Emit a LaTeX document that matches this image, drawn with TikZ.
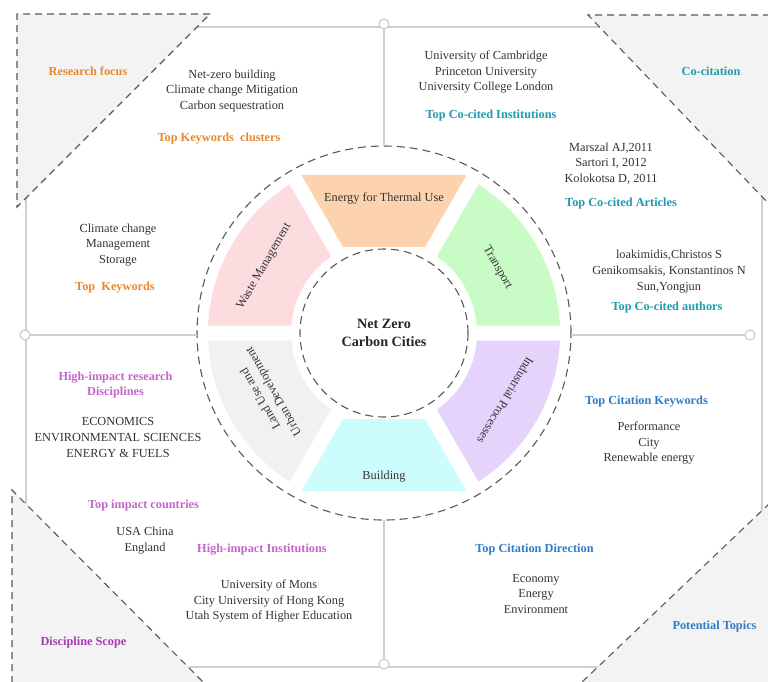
\documentclass[tikz,border=0pt]{standalone}
\usepackage{fontspec}
\setmainfont{Liberation Serif}
\usetikzlibrary{calc}

\definecolor{framegray}{HTML}{CFCFCF}
\definecolor{dashgray}{HTML}{595959}
\definecolor{cornerfill}{HTML}{F3F3F3}
\definecolor{bodytext}{HTML}{333333}
\definecolor{kworange}{HTML}{E8892C}
\definecolor{citeteal}{HTML}{1F9AAF}
\definecolor{impactpurple}{HTML}{C466C9}
\definecolor{scopepurple}{HTML}{A63BB4}
\definecolor{topicblue}{HTML}{2F7CC5}
\definecolor{segEnergy}{HTML}{FCD3AE}
\definecolor{segTransport}{HTML}{C9FBC6}
\definecolor{segIndustry}{HTML}{E5D3FB}
\definecolor{segBuilding}{HTML}{CDFCFC}
\definecolor{segLand}{HTML}{F1F1F1}
\definecolor{segWaste}{HTML}{FDDCDF}

% ring segment with curved edges: #1 middle angle, #2 fill colour
\newcommand\curvedsegment[2]{%
  \fill[#2] ({#1-30+asin(7.5/93)}:93pt) -- ({#1-30+asin(7.5/176)}:176pt)
    arc[start angle={#1-30+asin(7.5/176)}, end angle={#1+30-asin(7.5/176)}, radius=176pt]
    -- ({#1+30-asin(7.5/93)}:93pt)
    arc[start angle={#1+30-asin(7.5/93)}, end angle={#1-30+asin(7.5/93)}, radius=93pt]
    -- cycle;}
% ring segment with straight inner and outer edges
\newcommand\flatsegment[2]{%
  \fill[#2] ({#1-30+4.51}:95.3pt) -- ({#1-30+2.41}:178.3pt)
    -- ({#1+30-2.41}:178.3pt) -- ({#1+30-4.51}:95.3pt) -- cycle;}

\begin{document}
\begin{tikzpicture}[x=1pt, y=-1pt,
  every node/.style={inner sep=0pt, outer sep=0pt},
  frame/.style={draw=framegray, line width=1.2pt},
  cutedge/.style={draw=dashgray, line width=1.1pt, dash pattern=on 7pt off 5pt},
  ringline/.style={draw=dashgray, line width=1.1pt, dash pattern=on 8pt off 5pt},
  junction/.style={circle, draw=framegray, fill=white, line width=1.2pt, minimum size=10pt},
  item/.style={text=bodytext, align=center, font=\fontsize{12.3}{15.6}\selectfont},
  head/.style={align=center, font=\fontsize{12.3}{15.6}\selectfont\bfseries},
  seglabel/.style={text=bodytext, align=center, font=\fontsize{12.3}{15}\selectfont},
]
\useasboundingbox (0,0) rectangle (768,681);
\fill[white] (0,0) rectangle (768,681);

% outer frame
\draw[frame] (26,27) rectangle (762,667);

% cut-off corners
\fill[cornerfill] (210,14) -- (17,14) -- (17,207) -- cycle;
\draw[cutedge] (210,14) -- (17,14) -- (17,207) -- cycle;
\fill[cornerfill] (588,15) -- (770,15) -- (770,205) -- cycle;
\draw[cutedge] (770,15) -- (588,15) -- (770,205);
\fill[cornerfill] (12,490) -- (204,683) -- (12,683) -- cycle;
\draw[cutedge] (12,683) -- (12,490) -- (204,683);
\fill[cornerfill] (770,503) -- (581,683) -- (770,683) -- cycle;
\draw[cutedge] (770,503) -- (581,683);

% wheel
\coordinate (c) at (384,333);
\begin{scope}[shift={(c)}]
  \flatsegment{90}{segEnergy}
  \curvedsegment{30}{segTransport}
  \curvedsegment{-30}{segIndustry}
  \flatsegment{270}{segBuilding}
  \curvedsegment{210}{segLand}
  \curvedsegment{150}{segWaste}
  \node[seglabel] (lEnergy) at (90:135pt) {Energy for Thermal Use};
  \node[seglabel, rotate=-60] (lTransport) at (30:131pt) {Transport};
  \node[seglabel, rotate=-121] (lIndustry) at (-29:139pt) {Industrial Processes};
  \node[seglabel] (lBuilding) at (-90:144pt) {Building};
  \node[seglabel, rotate=120] (lLand) at (-152:132pt) {Land Use and\\Urban Development};
  \node[seglabel, rotate=60] (lWaste) at (151:137pt) {Waste Management};
\end{scope}

\node[circle, ringline, minimum size=374pt] (wheel) at (c) {};
\node[circle, ringline, minimum size=168pt, text=black!85,
      font=\fontsize{14.2}{17.5}\selectfont\bfseries, align=center] (hub) at (c) {Net Zero\\Carbon Cities};

% dividers and junctions
\node[junction] (jt) at (384,24) {};
\node[junction] (jl) at (25,335) {};
\node[junction] (jr) at (750,335) {};
\node[junction] (jb) at (384,664) {};
\draw[frame] (jt) -- (wheel.north);
\draw[frame] (jl) -- (jl -| wheel.west);
\draw[frame] (jr -| wheel.east) -- (jr);
\draw[frame] (wheel.south) -- (jb);

% research focus
\node[head, text=kworange] (rf) at (88,71) {Research focus};
\node[item] (kwc) at (232,91) {Net-zero building\\Climate change Mitigation\\Carbon sequestration};
\node[head, text=kworange] (kwcH) at (219,139) {Top Keywords\ \ clusters};
\node[item] (kw) at (118,245) {Climate change\\Management\\Storage};
\node[head, text=kworange] (kwH) at (115,288) {Top\ \ Keywords};

% co-citation
\node[head, text=citeteal] (cc) at (711,71) {Co-citation};
\node[item] (inst) at (486,72) {University of Cambridge\\Princeton University\\University College London};
\node[head, text=citeteal] (instH) at (491,116) {Top Co-cited Institutions};
\node[item] (art) at (611,163.5) {Marszal AJ,2011\\Sartori I, 2012\\Kolokotsa D, 2011};
\node[head, text=citeteal] (artH) at (621,204) {Top Co-cited Articles};
\node[item] (auth) at (669,271.5) {loakimidis,Christos S\\Genikomsakis, Konstantinos N\\Sun,Yongjun};
\node[head, text=citeteal] (authH) at (667,308) {Top Co-cited authors};

% discipline scope
\node[head, text=impactpurple] (disH) at (115.5,385) {High-impact research\\Disciplines};
\node[item] (dis) at (118,437.5) {ECONOMICS\\ENVIRONMENTAL SCIENCES\\ENERGY \& FUELS};
\node[head, text=impactpurple] (ctyH) at (143.5,506) {Top impact countries};
\node[item] (cty) at (145,540.5) {USA China\\England};
\node[head, text=impactpurple] (hiH) at (262,550) {High-impact Institutions};
\node[item] (hi) at (269,601) {University of Mons\\City University of Hong Kong\\Utah System of Higher Education};
\node[head, text=scopepurple] (ds) at (83.5,643) {Discipline Scope};

% potential topics
\node[head, text=topicblue] (ckH) at (646.5,402) {Top Citation Keywords};
\node[item] (ck) at (649,443) {Performance\\City\\Renewable energy};
\node[head, text=topicblue] (cdH) at (534.5,550) {Top Citation Direction};
\node[item] (cd) at (536,594) {Economy\\Energy\\Environment};
\node[head, text=topicblue] (pt) at (714.5,627) {Potential Topics};
\end{tikzpicture}
\end{document}
